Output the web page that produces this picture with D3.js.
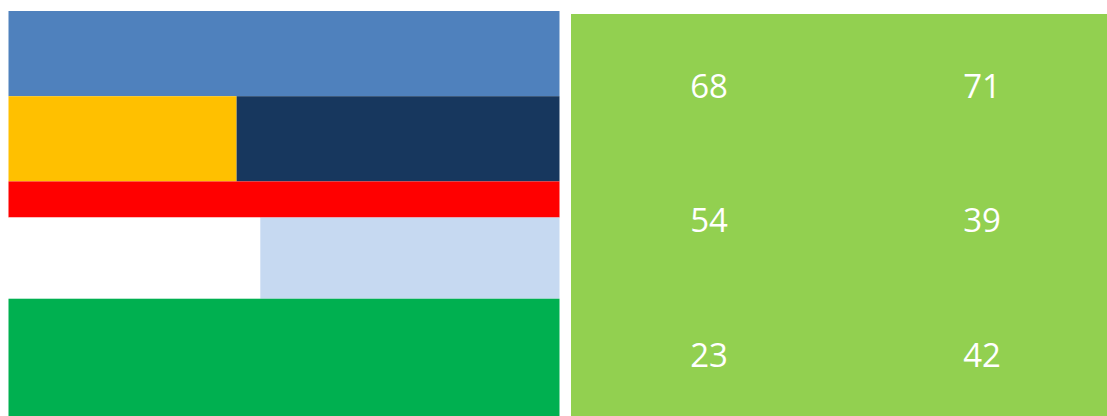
<!DOCTYPE html>
<html>
<head>
<meta charset="utf-8">
<script src="https://cdn.jsdelivr.net/npm/d3@7"></script>
<style>
  html, body { margin: 0; padding: 0; background: #ffffff; }
  svg { display: block; }
</style>
</head>
<body>
<div id="chart"></div>
<script>
// ---- data ----
// left mosaic: row weights and the split share of the first segment in each row
const rowNames   = ["r1", "r2", "r3", "r4", "r5"];
const rowWeights = [85, 85, 36, 81, 117];
const splitShare = [1, 0.414, 1, 0.457, 1];
const leftColors  = ["#4F81BD", "#FFC000", "#FF0000", "#FFFFFF", "#00B050"];
const rightColors = ["#4F81BD", "#17375E", "#FF0000", "#C6D9F1", "#00B050"];

// right panel: values grid (rows x columns)
const gridRows = ["top", "middle", "bottom"];
const gridCols = ["left", "right"];
const gridValues = [
  [68, 71],
  [54, 39],
  [23, 42]
];

// ---- drawing ----
const W = 1107, H = 416;
const svg = d3.select("#chart").append("svg").attr("width", W).attr("height", H);

// left mosaic
const L = { x0: 8.5, x1: 559.5, y0: 11, y1: 416 };
const cum = [0];
rowWeights.forEach((w, i) => cum.push(cum[i] + w));
const y = d3.scaleLinear().domain([0, d3.sum(rowWeights)]).range([L.y0, L.y1]);
const x = d3.scaleLinear().domain([0, 1]).range([L.x0, L.x1]);

const rows = rowNames.map((n, i) => ({ n, i, y0: cum[i], y1: cum[i + 1], s: splitShare[i] }));
const segs = [];
rows.forEach(r => {
  segs.push({ y0: r.y0, y1: r.y1, a: 0, b: r.s, c: leftColors[r.i] });
  if (r.s < 1) segs.push({ y0: r.y0, y1: r.y1, a: r.s, b: 1, c: rightColors[r.i] });
});
svg.append("g").selectAll("rect").data(segs).join("rect")
  .attr("x", d => x(d.a))
  .attr("y", d => y(d.y0))
  .attr("width", d => x(d.b) - x(d.a))
  .attr("height", d => y(d.y1) - y(d.y0))
  .attr("fill", d => d.c);

// right panel
const R = { x0: 571, x1: 1107, y0: 14, y1: 416 };
svg.append("rect")
  .attr("x", R.x0).attr("y", R.y0)
  .attr("width", R.x1 - R.x0).attr("height", R.y1 - R.y0)
  .attr("fill", "#92D050");

const cx = d3.scalePoint().domain(gridCols).range([709, 982]);
const cy = d3.scalePoint().domain(gridRows).range([86, 355]);

const cells = [];
gridRows.forEach((r, i) => gridCols.forEach((c, j) => cells.push({ r, c, v: gridValues[i][j] })));
svg.append("g").selectAll("text").data(cells).join("text")
  .attr("x", d => cx(d.c))
  .attr("y", d => cy(d.r))
  .attr("dy", "0.35em")
  .attr("text-anchor", "middle")
  .attr("fill", "#ffffff")
  .style("font-family", "'Open Sans', 'Noto Sans', sans-serif")
  .style("font-size", "33px")
  .text(d => d.v);
</script>
</body>
</html>
